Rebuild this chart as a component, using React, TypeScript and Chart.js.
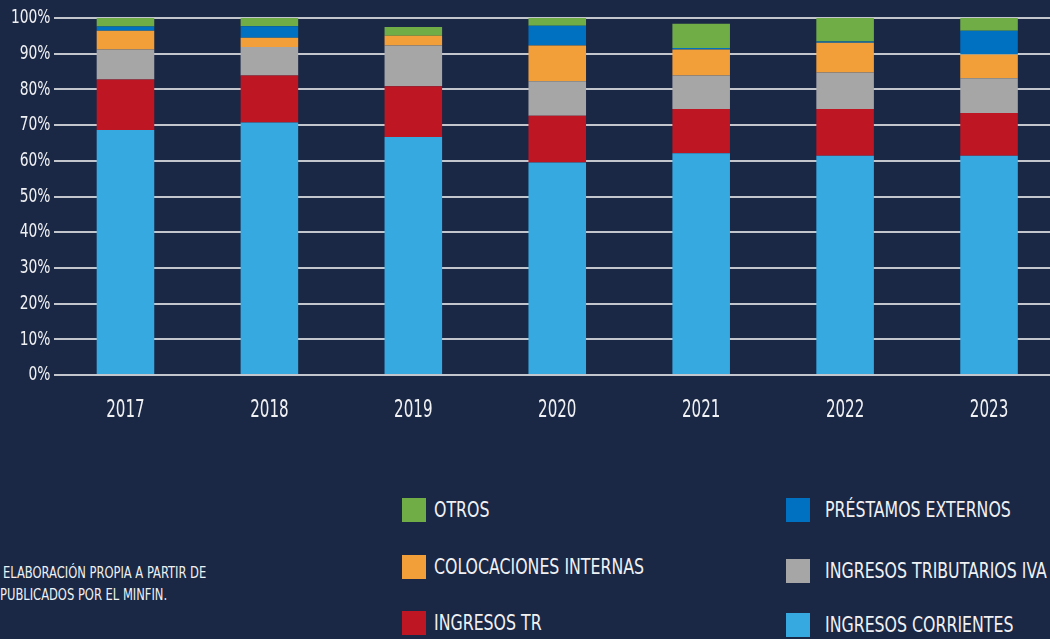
import React, { useEffect, useRef } from "react";
import { Chart, registerables } from "chart.js";

Chart.register(...registerables);

const years = ["2017", "2018", "2019", "2020", "2021", "2022", "2023"];
const ingresosCorrientes = [68.6, 70.7, 66.7, 59.5, 62.1, 61.4, 61.4];
const ingresosTR = [14.2, 13.2, 14.2, 13.1, 12.4, 13.1, 12.0];
const ingresosIVA = [8.4, 8.0, 11.4, 9.7, 9.4, 10.2, 9.7];
const colocacionesInternas = [5.2, 2.6, 2.7, 10.0, 7.3, 8.4, 6.7];
const prestamosExternos = [1.2, 3.2, 0, 5.5, 0.4, 0.3, 6.6];
const otros = [2.4, 2.3, 2.5, 2.2, 6.8, 6.6, 3.6];

const seriesNames = [
  "INGRESOS CORRIENTES",
  "INGRESOS TR",
  "INGRESOS TRIBUTARIOS IVA",
  "COLOCACIONES INTERNAS",
  "PRÉSTAMOS EXTERNOS",
  "OTROS",
];
const seriesColors = ["#36A9E1", "#BE1622", "#A6A6A6", "#F29F3A", "#0070C0", "#70AD47"];
const seriesValues = [ingresosCorrientes, ingresosTR, ingresosIVA, colocacionesInternas, prestamosExternos, otros];

const sourceLines = ["ELABORACIÓN PROPIA A PARTIR DE", "PUBLICADOS POR EL MINFIN."];

const FONT = '"DejaVu Sans Condensed", "DejaVu Sans", sans-serif';
const BG = "#1A2745";
const TEXT = "#F0F1F3";

// legend layout: [series index, left, top, textLeft]
const legendItems: [number, number, number, number][] = [
  [5, 402, 498, 434],
  [3, 402, 555, 434],
  [1, 402, 611, 434],
  [4, 786, 498, 825],
  [2, 786, 559, 825],
  [0, 786, 613, 825],
];

// draws the axis tick labels horizontally condensed (narrow display font look)
const condensedTicks = {
  id: "condensedTicks",
  afterDraw(chart: any) {
    const ctx = chart.ctx;
    const xs = chart.scales.x;
    const ys = chart.scales.y;
    ctx.save();
    ctx.fillStyle = TEXT;
    ctx.textBaseline = "middle";
    ctx.font = `24px ${FONT}`;
    ctx.textAlign = "center";
    xs.ticks.forEach((t: any, i: number) => {
      const x = xs.getPixelForTick(i);
      ctx.save();
      ctx.translate(x, xs.top + 36);
      ctx.scale(0.7, 1);
      ctx.fillText(String(xs.getLabelForValue(t.value)), 0, 0);
      ctx.restore();
    });
    ctx.font = `20px ${FONT}`;
    ctx.textAlign = "right";
    ys.ticks.forEach((t: any) => {
      const y = ys.getPixelForValue(t.value);
      ctx.save();
      ctx.translate(ys.right - 3, y);
      ctx.scale(0.77, 1);
      ctx.fillText(t.value + "%", 0, 0);
      ctx.restore();
    });
    ctx.restore();
  },
};

export default function App() {
  const ref = useRef<HTMLCanvasElement | null>(null);

  useEffect(() => {
    if (!ref.current) return;
    const chart = new Chart(ref.current, {
      type: "bar",
      data: {
        labels: years,
        datasets: seriesValues.map((vals, i) => ({
          label: seriesNames[i],
          data: vals,
          backgroundColor: seriesColors[i],
          borderWidth: 0,
          barPercentage: 0.8,
          categoryPercentage: 0.5,
        })),
      },
      options: {
        responsive: false,
        animation: false,
        maintainAspectRatio: false,
        layout: { padding: { top: 18, right: 0, left: 0, bottom: 0 } },
        plugins: { legend: { display: false }, tooltip: { enabled: false } },
        scales: {
          x: {
            stacked: true,
            grid: { display: false, drawTicks: false },
            border: { display: false },
            ticks: { display: false },
            afterFit: (s: any) => {
              s.height = 65;
            },
          },
          y: {
            stacked: true,
            min: 0,
            max: 100,
            grid: { color: "#C3C6CD", lineWidth: 2, drawTicks: false },
            border: { display: false },
            ticks: { stepSize: 10, display: false },
            afterFit: (s: any) => {
              s.width = 53.5;
            },
          },
        },
      },
      plugins: [condensedTicks],
    });
    return () => chart.destroy();
  }, []);

  return (
    <div style={{ position: "fixed", left: 0, top: 0, width: 1050, height: 639, overflow: "hidden", background: BG, fontFamily: FONT, color: TEXT }}>
      <canvas ref={ref} width={1061} height={440} style={{ position: "absolute", left: 0, top: 0, width: 1061, height: 440 }} />
      {legendItems.map(([si, x, y, tx]) => (
        <React.Fragment key={si}>
          <div style={{ position: "absolute", left: x, top: y, width: 24, height: 24, background: seriesColors[si] }} />
          <div style={{ position: "absolute", left: tx, top: y, height: 24, display: "flex", alignItems: "center", fontSize: 21, lineHeight: 1, whiteSpace: "nowrap", transform: "scaleX(0.835)", transformOrigin: "left center" }}>
            {seriesNames[si]}
          </div>
        </React.Fragment>
      ))}
      {sourceLines.map((t, i) => (
        <div key={i} style={{ position: "absolute", left: i === 0 ? 3 : 0, top: 564 + i * 22, fontSize: 16, lineHeight: 1, whiteSpace: "nowrap", height: 18, display: "flex", alignItems: "center", transform: "scaleX(0.8)", transformOrigin: "left center" }}>
          {t}
        </div>
      ))}
    </div>
  );
}
